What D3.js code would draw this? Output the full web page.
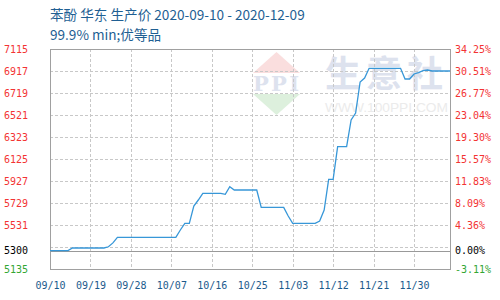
<!DOCTYPE html>
<html>
<head>
<meta charset="utf-8">
<script src="https://cdn.jsdelivr.net/npm/d3@7"></script>
<style>
  body { margin: 0; background: #fff; }
  svg { display: block; }
</style>
</head>
<body>
<svg id="chart" width="500" height="300"></svg>
<script>
// 苯酚 华东 生产价, daily
const startDate = "2020-09-10";
const prices = [
    5300, 5300, 5300, 5300, 5300,
    5324, 5324, 5324, 5324, 5324, 5324, 5324, 5324,
    5335, 5370,
    5420, 5420, 5420, 5420, 5420, 5420, 5420, 5420, 5420, 5420, 5420, 5420, 5420, 5420,
    5486, 5546, 5546, 5702, 5756,
    5816, 5816, 5816, 5816, 5816,
    5807, 5876,
    5846, 5846, 5846, 5846, 5846, 5846,
    5690, 5690, 5690, 5690, 5690, 5690,
    5612,
    5546, 5546, 5546, 5546, 5546, 5546,
    5567, 5666, 5942, 5942,
    6236, 6236, 6236,
    6476, 6539, 6818, 6854,
    6941, 6941, 6941, 6941, 6941, 6941, 6941, 6941,
    6845, 6845, 6890, 6903, 6920, 6926,
    6917, 6917, 6917, 6917, 6917
];
const basePrice = 5300;

const yTicks = [7115, 6917, 6719, 6521, 6323, 6125, 5927, 5729, 5531, 5333, 5135];
const yLabels = ["7115", "6917", "6719", "6521", "6323", "6125", "5927", "5729", "5531", "", "5135"];
const pctLabels = ["34.25%", "30.51%", "26.77%", "23.04%", "19.30%", "15.57%", "11.83%", "8.09%", "4.36%", "", "-3.11%"];
const xTickLabels = ["09/10", "09/19", "09/28", "10/07", "10/16", "10/25", "11/03", "11/12", "11/21", "11/30"];

const svg = d3.select("#chart");
// plot box
const plotL = 50, plotR = 450, plotT = 49, plotB = 269;
const tickFont = "'DejaVu Sans Mono', monospace";

const parseDay = d3.utcParse("%Y-%m-%d");
const t0 = parseDay(startDate);
const data = prices.map((v, i) => ({ date: d3.utcDay.offset(t0, i), value: v }));

const x = d3.scaleUtc()
    .domain([t0, data[data.length - 1].date])
    .range([plotL, plotR]);
const y = d3.scaleLinear()
    .domain([yTicks[yTicks.length - 1], yTicks[0]])
    .range([plotB, plotT]);

const tickDates = xTickLabels.map(l => d3.utcParse("%Y/%m/%d")("2020/" + l));

// watermark (生意社 logo)
const wm = svg.append("g");
wm.append("path").attr("d", "M253,73 L276.5,52 L300,73 Z").attr("fill", "#fadede");
wm.append("path").attr("d", "M253,94 L300,94 L276.5,115 Z").attr("fill", "#ddf0dd");
wm.append("text").attr("x", 253).attr("y", 91)
    .attr("textLength", 46).attr("lengthAdjust", "spacing")
    .attr("font-family", "'DejaVu Serif', serif").attr("font-weight", "bold")
    .attr("font-size", 21).attr("fill", "#dde2ee").text("PPI");
wm.append("text").attr("x", 325).attr("y", 87)
    .attr("textLength", 118).attr("lengthAdjust", "spacing")
    .attr("font-family", "'Noto Sans CJK SC'").attr("font-weight", "bold")
    .attr("font-size", 36).attr("fill", "#dde2ee").text("生意社");
wm.append("text").attr("x", 325).attr("y", 112)
    .attr("textLength", 123).attr("lengthAdjust", "spacingAndGlyphs")
    .attr("font-family", "'Liberation Sans', sans-serif")
    .attr("font-size", 13).attr("fill", "#ebebeb").text("WWW.100PPI.COM");

// grid
const grid = svg.append("g")
    .attr("stroke", "#c8c8c8").attr("stroke-dasharray", "3,2").attr("shape-rendering", "crispEdges");
grid.selectAll("line.h")
    .data(yTicks.slice(1, -1))
    .join("line")
    .attr("class", "h")
    .attr("x1", plotL).attr("x2", plotR)
    .attr("y1", d => Math.round(y(d)) + 0.5).attr("y2", d => Math.round(y(d)) + 0.5);
grid.selectAll("line.v")
    .data(tickDates.slice(1))
    .join("line")
    .attr("class", "v")
    .attr("y1", plotT).attr("y2", plotB)
    .attr("x1", d => Math.round(x(d)) + 0.5).attr("x2", d => Math.round(x(d)) + 0.5);

// base line at start price
svg.append("line")
    .attr("x1", plotL).attr("x2", plotR)
    .attr("y1", Math.round(y(basePrice)) + 0.5).attr("y2", Math.round(y(basePrice)) + 0.5)
    .attr("stroke", "#999").attr("shape-rendering", "crispEdges");

// frame
svg.append("rect")
    .attr("x", plotL + 0.5).attr("y", plotT + 0.5)
    .attr("width", plotR - plotL).attr("height", plotB - plotT)
    .attr("fill", "none").attr("stroke", "#a0a0a0").attr("shape-rendering", "crispEdges");

// price line
const line = d3.line().x(d => x(d.date)).y(d => y(d.value));
svg.append("path")
    .datum(data)
    .attr("d", line)
    .attr("fill", "none")
    .attr("stroke", "#3797d8")
    .attr("stroke-width", 1.3);

// left axis labels
const yAxisL = d3.axisLeft(y).tickValues(yTicks).tickSize(0).tickPadding(22)
    .tickFormat((d, i) => yLabels[i]);
const gl = svg.append("g").attr("transform", `translate(${plotL},0)`).call(yAxisL);
gl.select(".domain").remove();
gl.selectAll("text").attr("font-family", tickFont).attr("font-size", 10)
    .attr("fill", (d, i) => i === yTicks.length - 1 ? "#33a633" : "#f33333");

// right axis labels
const yAxisR = d3.axisRight(y).tickValues(yTicks).tickSize(0).tickPadding(5)
    .tickFormat((d, i) => pctLabels[i]);
const gr = svg.append("g").attr("transform", `translate(${plotR},0)`).call(yAxisR);
gr.select(".domain").remove();
gr.selectAll("text").attr("font-family", tickFont).attr("font-size", 10)
    .attr("fill", (d, i) => i === yTicks.length - 1 ? "#33a633" : "#f33333");

// base price labels
svg.append("text").attr("x", 28).attr("y", y(basePrice)).attr("dy", "0.32em")
    .attr("text-anchor", "end").attr("font-family", tickFont).attr("font-size", 10)
    .attr("fill", "#000").text(String(basePrice));
svg.append("text").attr("x", 455).attr("y", y(basePrice)).attr("dy", "0.32em")
    .attr("font-family", tickFont).attr("font-size", 10)
    .attr("fill", "#000").text("0.00%");

// x axis labels
const xAxis = d3.axisBottom(x).tickValues(tickDates).tickSize(0).tickPadding(13)
    .tickFormat((d, i) => xTickLabels[i]);
const gx = svg.append("g").attr("transform", `translate(0,${plotB})`).call(xAxis);
gx.select(".domain").remove();
gx.selectAll("text").attr("font-family", tickFont).attr("font-size", 10).attr("fill", "#1c5a8c");

// title
svg.append("text").attr("x", 50).attr("y", 20)
    .attr("font-family", "'Noto Sans CJK SC', sans-serif").attr("font-size", 13.6)
    .attr("fill", "#1f5f93").text("苯酚 华东 生产价 2020-09-10 - 2020-12-09");
svg.append("text").attr("x", 50).attr("y", 40)
    .attr("font-family", "'Noto Sans CJK SC', sans-serif").attr("font-size", 13.6)
    .attr("fill", "#1f5f93").text("99.9% min;优等品");
</script>
</body>
</html>
